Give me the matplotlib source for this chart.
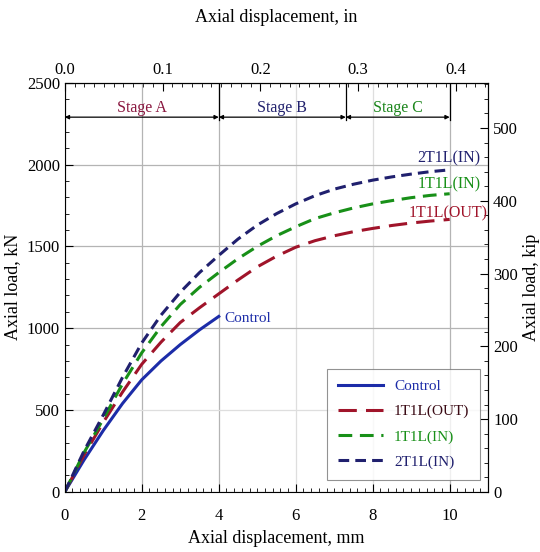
import numpy as np
import matplotlib.pyplot as plt
from matplotlib.ticker import MultipleLocator

plt.rcParams['font.family'] = ['Liberation Serif', 'DejaVu Serif']

# data (mm, kN)
x_ctrl = [0, 0.5, 1, 1.5, 2, 2.5, 3, 3.5, 4]
y_ctrl = [0, 195, 375, 540, 685, 800, 900, 990, 1072]

x_str = [0, 0.5, 1, 1.5, 2, 2.5, 3, 3.5, 4, 4.5, 5, 5.5, 6, 6.5, 7, 7.5, 8, 8.5, 9, 9.5, 10]
y_out = [0, 225, 425, 610, 780, 915, 1035, 1125, 1210, 1295, 1375, 1440, 1495, 1535, 1565, 1590, 1610, 1628, 1643, 1655, 1665]
y_in1 = [0, 240, 445, 660, 850, 1010, 1145, 1250, 1340, 1425, 1500, 1565, 1620, 1670, 1705, 1735, 1760, 1780, 1798, 1812, 1822]
y_in2 = [0, 250, 470, 700, 910, 1080, 1220, 1340, 1445, 1545, 1630, 1700, 1760, 1810, 1850, 1880, 1905, 1925, 1942, 1957, 1968]

names = ['Control', '1T1L(OUT)', '1T1L(IN)', '2T1L(IN)']
stage_names = ['Stage A', 'Stage B', 'Stage C']
stage_edges = [0, 4, 7.3, 10]

c_ctrl = '#1c2ca8'
c_out = '#a0142a'
c_in1 = '#189018'
c_in2 = '#20206e'

fig = plt.figure(figsize=(5.4, 5.52), dpi=100)
ax = fig.add_axes([0.120, 0.109, 0.784, 0.741])

ax.plot(x_ctrl, y_ctrl, color=c_ctrl, lw=2.2, label=names[0])
ax.plot(x_str, y_out, color=c_out, lw=2.2, dashes=(6, 3), label=names[1])
ax.plot(x_str, y_in1, color=c_in1, lw=2.2, dashes=(4.5, 2.5), label=names[2])
ax.plot(x_str, y_in2, color=c_in2, lw=2.2, dashes=(3.5, 2), label=names[3])

ax.set_xlim(0, 11)
ax.set_ylim(0, 2500)
ax.xaxis.set_major_locator(MultipleLocator(2))
ax.xaxis.set_minor_locator(MultipleLocator(0.2))
ax.yaxis.set_major_locator(MultipleLocator(500))
ax.yaxis.set_minor_locator(MultipleLocator(100))
ax.grid(True, which='major', color='#b4b4b4', lw=0.9)
for gl, v in zip(ax.get_xgridlines(), ax.get_xticks()):
    if v in (6, 8):
        gl.set_color('#dedede')
for gl, v in zip(ax.get_ygridlines(), ax.get_yticks()):
    if v == 500:
        gl.set_color('#dedede')
ax.tick_params(which='both', direction='in', labelsize=12)
ax.tick_params(which='major', length=6)
ax.tick_params(which='minor', length=3)
ax.tick_params(axis='x', pad=12)
ax.set_xlabel('Axial displacement, mm', fontsize=13, labelpad=4)
ax.set_ylabel('Axial load, kN', fontsize=13, labelpad=4)

# stages
for xe in stage_edges[1:]:
    ax.plot([xe, xe], [2270, 2500], color='k', lw=0.9)
for i in range(3):
    ax.annotate('', xy=(stage_edges[i], 2290), xytext=(stage_edges[i + 1], 2290),
                arrowprops=dict(arrowstyle='<|-|>', color='k', lw=0.9,
                                mutation_scale=6, shrinkA=0, shrinkB=0))
stage_colors = ['#8a1840', '#22226e', '#1c861c']
for i in range(3):
    ax.text((stage_edges[i] + stage_edges[i + 1]) / 2, 2345, stage_names[i],
            color=stage_colors[i], fontsize=11.5, ha='center', va='center')

# curve labels
ax.text(10.8, 2040, '2T1L(IN)', color=c_in2, fontsize=11.5, ha='right', va='center')
ax.text(10.8, 1880, '1T1L(IN)', color=c_in1, fontsize=11.5, ha='right', va='center')
ax.text(10.98, 1700, '1T1L(OUT)', color=c_out, fontsize=11.5, ha='right', va='center')
ax.text(4.15, 1060, 'Control', color=c_ctrl, fontsize=11, ha='left', va='center')

leg = ax.legend(loc='lower right', bbox_to_anchor=(0.981, 0.03), fontsize=11,
                handlelength=3.0, handletextpad=0.7, frameon=True, fancybox=False,
                edgecolor='#777777', borderpad=0.7, labelspacing=0.75,
                borderaxespad=0)
leg.get_frame().set_linewidth(0.8)
for t, c in zip(leg.get_texts(), [c_ctrl, '#3a0a14', c_in1, c_in2]):
    t.set_color(c)

# top axis in inches
top = ax.secondary_xaxis('top', functions=(lambda v: v / 25.4, lambda v: v * 25.4))
top.set_xticks([0.0, 0.1, 0.2, 0.3, 0.4])
top.xaxis.set_minor_locator(MultipleLocator(0.01))
top.xaxis.set_major_formatter(plt.FormatStrFormatter('%.1f'))
top.tick_params(which='both', direction='in', labelsize=12)
top.tick_params(which='major', length=6)
top.tick_params(which='minor', length=3)
top.set_xlabel('Axial displacement, in', fontsize=13, labelpad=29)

# right axis in kip
right = ax.secondary_yaxis('right', functions=(lambda v: v / 4.448, lambda v: v * 4.448))
right.set_yticks([0, 100, 200, 300, 400, 500])
right.yaxis.set_minor_locator(MultipleLocator(20))
right.tick_params(which='both', direction='in', labelsize=12)
right.tick_params(which='major', length=6)
right.tick_params(which='minor', length=3)
right.set_ylabel('Axial load, kip', fontsize=13, labelpad=4)

fig.savefig('out.png', dpi=100)
